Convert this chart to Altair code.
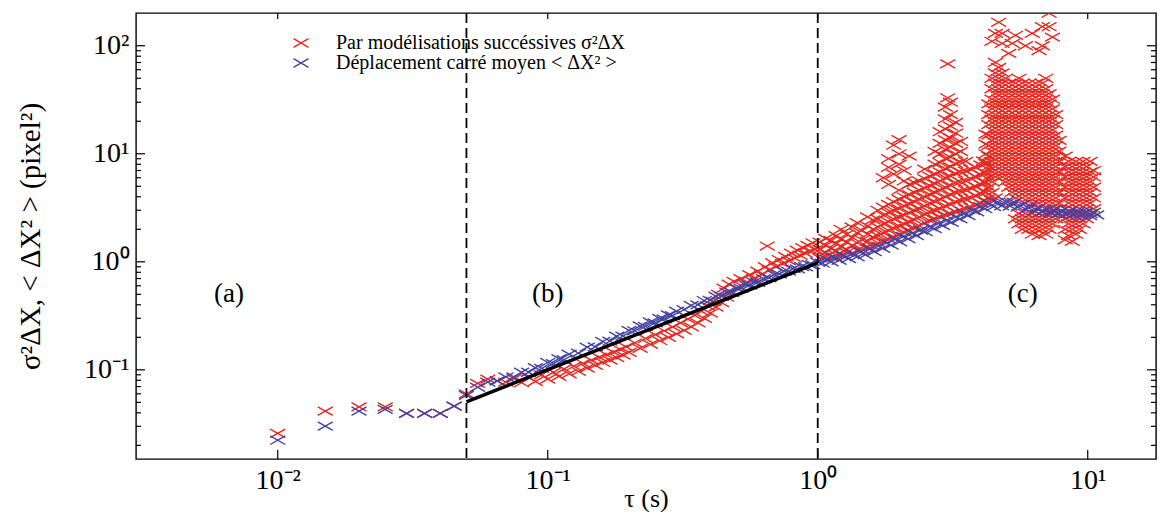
import altair as alt
import pandas as pd

RED = "#e8261e"
BLUE = "#4343a6"
SERIF = "Liberation Serif"
CROSS = "M-1,-0.57L1,0.57M-1,0.57L1,-0.57"

series_names = ["Par modélisations succéssives σ²ΔX", "Déplacement carré moyen < ΔX² >"]

# sparse early lags (region a)
early_tau = [0.01, 0.015, 0.02, 0.025, 0.03, 0.035, 0.04, 0.045]
early_red = [0.0258, 0.0415, 0.0454, 0.0454, 0.0395, 0.0395, 0.0395, 0.0461]
early_blue = [0.0223, 0.0301, 0.0415, 0.0430, 0.0395, 0.0395, 0.0395, 0.0461]

# red series, region (b)
red_b_tau = [0.05, 0.055, 0.06, 0.065, 0.07, 0.075, 0.08, 0.085, 0.09, 0.095,
             0.10, 0.105, 0.11, 0.115, 0.12, 0.125, 0.13, 0.135, 0.14, 0.145,
             0.15, 0.155, 0.16, 0.165, 0.17, 0.175, 0.18, 0.185, 0.19, 0.195,
             0.20, 0.21, 0.22, 0.23, 0.24, 0.25, 0.26, 0.27, 0.28, 0.29,
             0.30, 0.31, 0.32, 0.33, 0.34, 0.35, 0.36, 0.37, 0.38, 0.39,
             0.40, 0.41, 0.42, 0.43, 0.44, 0.45, 0.46, 0.47, 0.48, 0.49, 0.50,
             0.52, 0.54, 0.56, 0.58, 0.60, 0.62, 0.64, 0.65,
             0.66, 0.68, 0.70, 0.72, 0.74, 0.76, 0.78, 0.80, 0.82, 0.84, 0.86,
             0.88, 0.90, 0.92, 0.94, 0.96, 0.98]
red_b_val = [0.060, 0.075, 0.082, 0.079, 0.077, 0.083, 0.076, 0.085, 0.078, 0.090,
             0.082, 0.095, 0.087, 0.102, 0.092, 0.108, 0.097, 0.115, 0.104, 0.123,
             0.110, 0.131, 0.117, 0.138, 0.123, 0.146, 0.130, 0.155, 0.137, 0.163,
             0.145, 0.178, 0.158, 0.195, 0.172, 0.212, 0.186, 0.230, 0.200, 0.250,
             0.215, 0.272, 0.232, 0.295, 0.250, 0.320, 0.272, 0.350, 0.300, 0.390,
             0.335, 0.430, 0.380, 0.500, 0.420, 0.570, 0.470, 0.620, 0.520, 0.660, 0.570,
             0.700, 0.640, 0.760, 0.700, 0.820, 0.760, 0.900, 1.40,
             0.840, 0.980, 0.900, 1.050, 0.960, 1.120, 1.020, 1.200, 1.080, 1.280, 1.150,
             1.350, 1.200, 1.420, 1.260, 1.500, 1.300]

# red series, region (c): one column of values per lag
red_c_tau = [1.02, 1.07, 1.12, 1.17, 1.22, 1.28, 1.34, 1.40, 1.46, 1.53, 1.60, 1.67, 1.75,
             1.83, 1.91, 2.00, 2.09, 2.18, 2.28, 2.38, 2.49, 2.60, 2.72, 2.84, 2.97, 3.03,
             3.10, 3.24, 3.38, 3.53, 3.69, 3.85, 4.02, 4.11, 4.20,
             4.30, 4.42, 4.55, 4.68, 4.82, 4.96, 5.10, 5.25, 5.40, 5.56, 5.72, 5.88,
             6.05, 6.23, 6.41, 6.60, 6.79, 6.99, 7.19, 7.40, 7.61, 7.83,
             8.25, 8.50, 8.76, 9.03, 9.31, 9.60, 9.90, 10.2, 10.5]
red_c_vals = [
    [1.08, 1.3, 1.52],
    [1.12, 1.22, 1.42, 1.65],
    [1.1, 1.33, 1.58],
    [1.16, 1.26, 1.48, 1.75],
    [1.15, 1.38, 1.62, 2.0],
    [1.22, 1.3, 1.52, 1.8],
    [1.2, 1.42, 1.68, 2.1],
    [1.28, 1.5, 1.85, 2.3],
    [1.3, 1.6, 1.95],
    [1.38, 1.55, 1.8, 2.15, 2.6],
    [1.4, 1.7, 2.0, 2.45],
    [1.5, 1.75, 2.1, 2.5, 3.0],
    [1.55, 1.85, 2.25, 2.7, 3.2, 6.0],
    [1.62, 1.95, 2.35, 2.85, 3.4, 5.2, 7.5, 9.0],
    [1.7, 2.05, 2.5, 3.0, 3.6, 6.5, 12.0],
    [1.78, 2.15, 2.6, 3.1, 3.8, 4.6, 8.0, 10.0, 13.5],
    [1.88, 2.25, 2.7, 3.3, 4.0, 5.6, 7.0],
    [1.95, 2.35, 2.85, 3.45, 4.2, 5.2, 9.5],
    [2.05, 2.45, 3.0, 3.6, 4.4, 5.4],
    [2.15, 2.6, 3.1, 3.8, 4.6, 5.6],
    [2.3, 2.75, 3.3, 4.0, 4.8, 5.9, 7.2],
    [2.4, 2.9, 3.5, 4.2, 5.1, 6.2],
    [2.5, 3.0, 3.6, 4.4, 5.3, 6.5, 8.0, 10.5],
    [2.6, 3.1, 3.8, 4.6, 5.6, 6.8, 8.3, 10.0, 12.5, 16.0],
    [2.7, 3.3, 4.0, 4.9, 6.0, 7.3, 9.0, 11.0, 13.5, 17.0, 21.0, 27.0],
    [68.0, 33.0],
    [2.8, 3.4, 4.2, 5.1, 6.2, 7.6, 9.3, 11.5, 14.0, 18.0, 23.0, 30.0],
    [2.9, 3.6, 4.4, 5.4, 6.6, 8.1, 10.0, 12.5, 15.5, 19.5],
    [3.0, 3.7, 4.5, 5.5, 6.8, 8.4, 10.5, 13.0],
    [3.1, 3.8, 4.6, 5.6, 6.9, 8.5],
    [3.2, 3.9, 4.8, 5.9, 7.2],
    [3.35, 4.1, 5.0, 6.1, 7.5],
    [3.5, 4.3, 5.2, 6.4, 7.9],
    [3.7, 4.5, 5.5, 6.8, 8.6],
    [3.6, 4.4, 5.4, 6.6, 8.1, 10.0, 12.3, 15.2],
    [3.9, 4.9, 6.1, 7.6, 9.5, 11.9, 14.9, 18.6, 23, 29],
    [3.7, 4.4, 5.5, 6.8, 8.5, 10.6, 13.3, 16.6, 20.8, 26, 32, 40, 50, 110],
    [3.9, 6.1, 7.6, 9.5, 11.9, 14.9, 18.6, 23, 29, 36, 45, 56, 70, 130],
    [6.8, 8.5, 10.6, 13.3, 16.6, 20.8, 26, 32, 40, 50, 63, 165],
    [6.1, 7.6, 9.5, 11.9, 14.9, 18.6, 23, 29, 36, 45, 56, 105, 130],
    [5.5, 6.8, 8.5, 10.6, 13.3, 16.6, 20.8, 26, 32, 40, 50],
    [4.9, 6.1, 7.6, 9.5, 11.9, 14.9, 18.6, 23, 29, 36, 45, 85],
    [3.5, 4.4, 5.5, 6.8, 8.5, 10.6, 13.3, 16.6, 20.8, 26, 32, 40, 105],
    [2.5, 3.9, 4.9, 6.1, 7.6, 9.5, 11.9, 14.9, 18.6, 23, 29, 36, 45, 125],
    [2.25, 2.8, 4.4, 5.5, 6.8, 8.5, 10.6, 13.3, 16.6, 20.8, 26, 32, 40, 50],
    [2.0, 2.5, 3.9, 4.9, 6.1, 7.6, 9.5, 11.9, 14.9, 18.6, 23, 29, 36, 45],
    [2.25, 2.8, 3.5, 4.4, 5.5, 6.8, 8.5, 10.6, 13.3, 16.6, 20.8, 26, 32, 40, 100],
    [2.0, 2.5, 3.9, 4.9, 6.1, 7.6, 9.5, 11.9, 14.9, 18.6, 23, 29, 36, 45],
    [1.8, 2.25, 2.8, 3.5, 4.4, 5.5, 6.8, 8.5, 10.6, 13.3, 16.6, 20.8, 26, 32, 40, 130],
    [2.0, 2.5, 3.9, 4.9, 6.1, 7.6, 9.5, 11.9, 14.9, 18.6, 23, 29, 36, 45],
    [1.75, 2.25, 2.8, 3.5, 4.4, 5.5, 6.8, 8.5, 10.6, 13.3, 16.6, 20.8, 26, 32, 40, 90],
    [2.0, 2.5, 3.9, 4.9, 6.1, 7.6, 9.5, 11.9, 14.9, 18.6, 23, 29, 36, 45, 100, 150],
    [1.8, 2.25, 2.8, 3.5, 4.4, 5.5, 6.8, 8.5, 10.6, 13.3, 16.6, 20.8, 26, 32, 40, 50],
    [2.0, 2.5, 3.1, 3.9, 4.9, 6.1, 7.6, 9.5, 11.9, 14.9, 18.6, 23, 29, 36, 150, 200],
    [2.25, 2.8, 3.5, 4.4, 5.5, 6.8, 8.5, 10.6, 13.3, 16.6, 20.8, 26, 32, 120],
    [2.5, 3.1, 3.9, 4.9, 6.1, 7.6, 9.5, 11.9, 14.9, 18.6, 23],
    [2.8, 3.5, 4.4, 5.5, 6.8, 8.5, 10.6, 13.3],
    [1.6, 2.0, 2.5, 3.1, 3.9, 4.9, 6.1, 7.6, 9.5],
    [1.75, 2.25, 2.8, 3.5, 4.4, 5.5, 6.8, 8.5],
    [1.55, 2.0, 2.5, 3.1, 3.9, 4.9, 6.1, 7.6],
    [1.8, 2.25, 2.8, 3.5, 4.4, 5.5, 6.8, 8.5],
    [2.0, 2.5, 3.1, 3.9, 4.9, 6.1, 7.6],
    [2.25, 2.8, 3.5, 4.4, 5.5, 6.8, 8.5],
    [2.5, 3.1, 3.9, 4.9, 6.1, 7.6],
    [2.8, 3.5, 4.4, 5.5, 6.8, 8.5],
    [3.1, 3.9, 4.9, 6.1, 7.0],
]

# blue series (mean squared displacement), regions (b) and (c)
blue_tau = [0.05, 0.055, 0.06, 0.065, 0.07, 0.075, 0.08, 0.085, 0.09, 0.095,
            0.10, 0.105, 0.11, 0.115, 0.12, 0.13, 0.14, 0.15, 0.16, 0.17,
            0.18, 0.19, 0.20, 0.21, 0.22, 0.23, 0.24, 0.25, 0.26, 0.27,
            0.28, 0.29, 0.30, 0.32, 0.34, 0.36, 0.38, 0.40, 0.42, 0.44,
            0.46, 0.48, 0.50, 0.52, 0.54, 0.56, 0.58, 0.60, 0.63, 0.66,
            0.69, 0.72, 0.75, 0.78, 0.81, 0.84, 0.87, 0.90, 0.93, 0.96, 1.00,
            1.04, 1.08, 1.12, 1.16, 1.20, 1.25, 1.30, 1.35, 1.40, 1.45,
            1.50, 1.56, 1.62, 1.68, 1.74, 1.80, 1.87, 1.94, 2.01, 2.08,
            2.16, 2.24, 2.32, 2.40, 2.50, 2.60, 2.70, 2.80, 2.90, 3.00,
            3.12, 3.24, 3.36, 3.48, 3.60, 3.74, 3.88, 4.02, 4.16, 4.32,
            4.48, 4.64, 4.80, 4.98, 5.16, 5.34, 5.52, 5.72, 5.92, 6.12,
            6.34, 6.56, 6.78, 7.02, 7.26, 7.50, 7.76, 8.02, 8.30, 8.58,
            8.88, 9.18, 9.50, 9.82, 10.16, 10.5, 10.8]
blue_val = [0.058, 0.069, 0.077, 0.079, 0.086, 0.086, 0.095, 0.095, 0.105, 0.103,
            0.117, 0.114, 0.127, 0.124, 0.140, 0.143, 0.162, 0.163, 0.183, 0.184,
            0.205, 0.205, 0.232, 0.230, 0.255, 0.252, 0.278, 0.272, 0.300, 0.296,
            0.323, 0.318, 0.350, 0.360, 0.395, 0.400, 0.438, 0.440, 0.480, 0.480,
            0.525, 0.525, 0.575, 0.570, 0.615, 0.608, 0.652, 0.645, 0.700, 0.712,
            0.765, 0.770, 0.820, 0.818, 0.865, 0.860, 0.905, 0.900, 0.945, 0.940, 0.995,
            0.97, 1.06, 1.00, 1.10, 1.03, 1.14, 1.07, 1.19, 1.11, 1.24,
            1.16, 1.31, 1.24, 1.40, 1.33, 1.50, 1.43, 1.62, 1.53, 1.72,
            1.63, 1.84, 1.75, 1.97, 1.90, 2.12, 2.03, 2.27, 2.16, 2.42,
            2.32, 2.60, 2.50, 2.80, 2.68, 3.00, 2.90, 3.25, 3.10, 3.46,
            3.25, 3.58, 3.30, 3.62, 3.28, 3.56, 3.20, 3.42, 3.05, 3.28,
            2.95, 3.16, 2.88, 3.08, 2.82, 3.02, 2.78, 2.98, 2.75, 2.95,
            2.72, 2.92, 2.70, 2.90, 2.68, 2.88, 2.72]

# straight fit over region (b)
fit_tau = [0.05, 1.0]
fit_val = [0.0505, 0.98]

# region boundaries and labels
vline_tau = [0.05, 1.0]
region_labels = ["(a)", "(b)", "(c)"]
region_tau = [0.0066, 0.1, 5.75]
region_val = [0.5, 0.5, 0.5]

# axis ticks
x_major = [0.01, 0.1, 1, 10]
y_major = [0.1, 1, 10, 100]
y_minor = [0.02, 0.03, 0.04, 0.05, 0.06, 0.07, 0.08, 0.09,
           0.2, 0.3, 0.4, 0.5, 0.6, 0.7, 0.8, 0.9,
           2, 3, 4, 5, 6, 7, 8, 9,
           20, 30, 40, 50, 60, 70, 80, 90]

W, H = 1020, 446

rows = []
for t, v in zip(early_tau, early_red):
    rows.append((t, v, series_names[0]))
for t, v in zip(red_b_tau, red_b_val):
    rows.append((t, v, series_names[0]))
for t, vs in zip(red_c_tau, red_c_vals):
    for v in vs:
        rows.append((t, v, series_names[0]))
for t, v in zip(early_tau, early_blue):
    rows.append((t, v, series_names[1]))
for t, v in zip(blue_tau, blue_val):
    rows.append((t, v, series_names[1]))
pts = pd.DataFrame(rows, columns=["tau", "val", "series"])

xscale = alt.Scale(type="log", domain=[0.002986, 17.9], nice=False)
yscale = alt.Scale(type="log", domain=[0.01495, 201], nice=False)

xaxis = alt.Axis(
    values=x_major,
    labelExpr="datum.value < 0.05 ? '10⁻²' : datum.value < 0.5 ? '10⁻¹' : datum.value < 5 ? '10⁰' : '10¹'",
    ticks=False, grid=False, domain=False,
    labelFont=SERIF, labelFontSize=28, labelColor="black", labelPadding=7,
    title="τ (s)", titleFont=SERIF, titleFontSize=26, titleFontWeight="normal",
    titleColor="black", titleBaseline="alphabetic", titleY=47,
)
yaxis = alt.Axis(
    values=y_major,
    labelExpr="datum.value < 0.5 ? '10⁻¹' : datum.value < 5 ? '10⁰' : datum.value < 50 ? '10¹' : '10²'",
    ticks=False, grid=False, domain=False,
    labelFont=SERIF, labelFontSize=28, labelColor="black", labelPadding=7,
    title="σ²ΔX, < ΔX² > (pixel²)", titleFont=SERIF, titleFontSize=29,
    titleFontWeight="normal", titleColor="black", titlePadding=38,
)


def X(field):
    return alt.X(field, type="quantitative", scale=xscale, axis=xaxis)


def Y(field):
    return alt.Y(field, type="quantitative", scale=yscale, axis=yaxis)


scatter = alt.Chart(pts).mark_point(
    shape=CROSS, filled=False, size=225, strokeWidth=1.4, opacity=1, clip=True
).encode(
    x=X("tau"), y=Y("val"),
    color=alt.Color(
        "series:N",
        scale=alt.Scale(domain=series_names, range=[RED, BLUE]),
        sort=series_names,
        legend=alt.Legend(
            title=None, orient="none", legendX=155, legendY=20, padding=0,
            labelFont=SERIF, labelFontSize=20, labelColor="black", labelOffset=25,
            labelLimit=600, symbolType=CROSS, symbolSize=225, symbolStrokeWidth=1.4,
            rowPadding=0,
        ),
    ),
)

fit = alt.Chart(pd.DataFrame({"tau": fit_tau, "val": fit_val})).mark_line(
    color="black", strokeWidth=3.5
).encode(x=X("tau"), y=Y("val"))

vlines = alt.Chart(pd.DataFrame({"tau": vline_tau})).mark_rule(
    color="black", strokeWidth=1.8, strokeDash=[10, 5]
).encode(x=X("tau"))

labels = alt.Chart(pd.DataFrame({"tau": region_tau, "val": region_val, "lab": region_labels})).mark_text(
    font=SERIF, fontSize=27, color="black", align="center", baseline="middle"
).encode(x=X("tau"), y=Y("val"), text="lab:N")

ymaj_df = pd.DataFrame({"v": y_major})
ymin_df = pd.DataFrame({"v": y_minor})
xmaj_df = pd.DataFrame({"t": x_major})
tick_style = dict(color="black", strokeWidth=1.2)
left_major = alt.Chart(ymaj_df).mark_rule(**tick_style).encode(
    y=Y("v"), x=alt.value(0), x2=alt.value(9))
left_minor = alt.Chart(ymin_df).mark_rule(**tick_style).encode(
    y=Y("v"), x=alt.value(0), x2=alt.value(5))
right_major = alt.Chart(ymaj_df).mark_rule(**tick_style).encode(
    y=Y("v"), x=alt.value(W - 9), x2=alt.value(W))
right_minor = alt.Chart(ymin_df).mark_rule(**tick_style).encode(
    y=Y("v"), x=alt.value(W - 5), x2=alt.value(W))
bottom_major = alt.Chart(xmaj_df).mark_rule(**tick_style).encode(
    x=X("t"), y=alt.value(H), y2=alt.value(H - 9))
top_major = alt.Chart(xmaj_df).mark_rule(**tick_style).encode(
    x=X("t"), y=alt.value(0), y2=alt.value(6))

chart = alt.layer(
    scatter, vlines, fit, labels,
    left_major, left_minor, right_major, right_minor, bottom_major, top_major,
).properties(
    width=W, height=H,
    padding={"left": 128, "top": 5, "right": 2, "bottom": 53},
    autosize=alt.AutoSizeParams(type="none"),
    background="white",
).configure_view(stroke="black", strokeWidth=1.4)

chart.save("out.html", embed_options={"renderer": "svg", "actions": False})
